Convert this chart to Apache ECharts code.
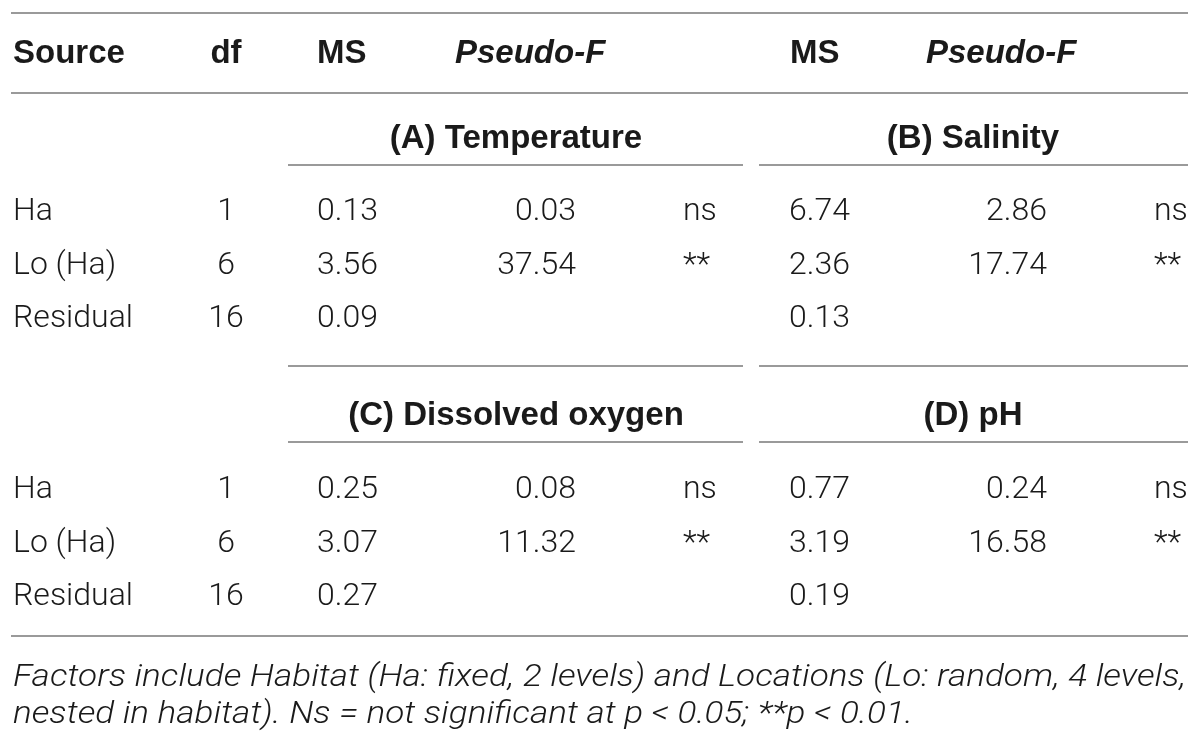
<!DOCTYPE html>
<html>
<head>
<meta charset="utf-8">
<script src="https://cdn.jsdelivr.net/npm/echarts@6/dist/echarts.min.js"></script>
<style>
  html, body { margin: 0; padding: 0; background: #fff; }
  #main { width: 1200px; height: 743px; }
</style>
</head>
<body>
<div id="main"></div>
<script>
// 表格数据
const headers = ['Source', 'df', 'MS', 'Pseudo-F', 'MS', 'Pseudo-F'];
const panelTitles = ['(A) Temperature', '(B) Salinity', '(C) Dissolved oxygen', '(D) pH'];
const rowLabels = ['Ha', 'Lo (Ha)', 'Residual'];
const dfValues = [1, 6, 16];
const temperatureMS = [0.13, 3.56, 0.09];
const temperatureF = [0.03, 37.54, null];
const temperatureSig = ['ns', '**', ''];
const salinityMS = [6.74, 2.36, 0.13];
const salinityF = [2.86, 17.74, null];
const salinitySig = ['ns', '**', ''];
const oxygenMS = [0.25, 3.07, 0.27];
const oxygenF = [0.08, 11.32, null];
const oxygenSig = ['ns', '**', ''];
const phMS = [0.77, 3.19, 0.19];
const phF = [0.24, 16.58, null];
const phSig = ['ns', '**', ''];
const footnote = [
  'Factors include Habitat (Ha: fixed, 2 levels) and Locations (Lo: random, 4 levels,',
  'nested in habitat). Ns = not significant at p < 0.05; **p < 0.01.'
];

(function () {
  const myChart = echarts.init(document.getElementById('main'));
  const textColor = '#1a1a1a';
  const ruleColor = '#9a9a9a';
  const bodyFont = 'Roboto, "Liberation Sans", sans-serif';
  const headFont = '"Liberation Sans", Arial, sans-serif';

  // 列位置 (像素坐标)
  const col = {
    source: 13, df: 226,
    msL: 317, fL: 576, sigL: 683,
    msR: 789, fR: 1047, sigR: 1154
  };
  const headY = 54;
  const titleY = [139, 416];
  const rowY = [[212, 266, 319], [490, 544, 597]];

  const cells = [];
  function cell(x, y, text, align, extra) {
    if (text === '' || text === null) return;
    cells.push({
      name: String(text),
      value: [x, y],
      label: Object.assign({ align: align }, extra || {})
    });
  }
  const fmt = v => (v === null ? '' : v.toFixed(2));

  // 表头
  const bold = { fontWeight: 'bold', fontFamily: headFont, fontSize: 33 };
  const boldItalic = { fontWeight: 'bold', fontStyle: 'italic', fontFamily: headFont, fontSize: 33 };
  cell(col.source, headY, headers[0], 'left', bold);
  cell(col.df, headY, headers[1], 'center', bold);
  cell(col.msL, headY, headers[2], 'left', bold);
  cell(455, headY, headers[3], 'left', boldItalic);
  cell(790, headY, headers[4], 'left', bold);
  cell(926, headY, headers[5], 'left', boldItalic);

  // 分组标题
  cell(516, titleY[0], panelTitles[0], 'center', bold);
  cell(973, titleY[0], panelTitles[1], 'center', bold);
  cell(516, titleY[1], panelTitles[2], 'center', bold);
  cell(973, titleY[1], panelTitles[3], 'center', bold);

  const blocks = [
    [temperatureMS, temperatureF, temperatureSig, salinityMS, salinityF, salinitySig],
    [oxygenMS, oxygenF, oxygenSig, phMS, phF, phSig]
  ];
  blocks.forEach((b, bi) => {
    rowLabels.forEach((lab, i) => {
      const y = rowY[bi][i];
      cell(col.source, y, lab, 'left');
      cell(col.df, y, dfValues[i], 'center');
      cell(col.msL, y, fmt(b[0][i]), 'left');
      cell(col.fL, y, fmt(b[1][i]), 'right');
      cell(col.sigL, y, b[2][i], 'left');
      cell(col.msR, y, fmt(b[3][i]), 'left');
      cell(col.fR, y, fmt(b[4][i]), 'right');
      cell(col.sigR, y, b[5][i], 'left');
    });
  });

  // 脚注压缩到整行宽度
  const ctx = document.createElement('canvas').getContext('2d');
  const noteFont = 'italic 300 32px ' + bodyFont;
  ctx.font = noteFont;
  const noteScale = (1186 - 13) / ctx.measureText(footnote[0]).width;

  function rule(x1, x2, y) {
    return {
      type: 'line',
      shape: { x1: x1, y1: y, x2: x2, y2: y },
      style: { stroke: ruleColor, lineWidth: 2 }
    };
  }

  let option = {
    animation: false,
    grid: { left: 0, right: 0, top: 0, bottom: 0 },
    xAxis: { type: 'value', min: 0, max: 1200, show: false },
    yAxis: { type: 'value', min: 0, max: 743, inverse: true, show: false },
    series: [{
      type: 'scatter',
      symbolSize: 0,
      silent: true,
      itemStyle: { opacity: 1 },
      label: {
        show: true,
        position: 'inside',
        verticalAlign: 'middle',
        formatter: '{b}',
        color: textColor,
        fontFamily: bodyFont,
        fontWeight: 300,
        fontSize: 32
      },
      data: cells
    }],
    graphic: [
      rule(11, 1188, 13),
      rule(11, 1188, 93),
      rule(288, 743, 165),
      rule(759, 1188, 165),
      rule(288, 743, 366),
      rule(759, 1188, 366),
      rule(288, 743, 442),
      rule(759, 1188, 442),
      rule(11, 1188, 636),
      {
        type: 'text', x: 13, y: 678, scaleX: noteScale,
        style: { text: footnote[0], font: noteFont, fill: textColor, verticalAlign: 'middle' }
      },
      {
        type: 'text', x: 13, y: 715, scaleX: noteScale,
        style: { text: footnote[1], font: noteFont, fill: textColor, verticalAlign: 'middle' }
      }
    ]
  };
  myChart.setOption(option);
  window.addEventListener('resize', function () {
    myChart.resize();
  });
})();
</script>
</body>
</html>
